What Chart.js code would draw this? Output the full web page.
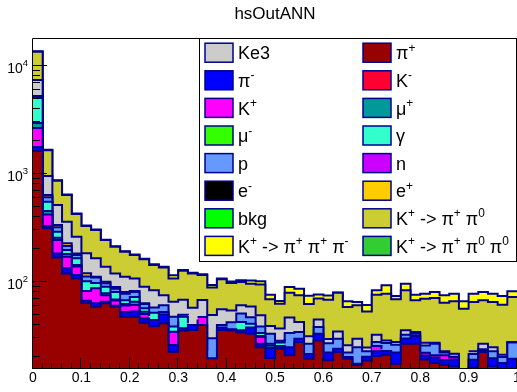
<!DOCTYPE html>
<html>
<head>
<meta charset="utf-8">
<title>hsOutANN</title>
<script src="https://cdn.jsdelivr.net/npm/chart.js@4.4.1/dist/chart.umd.min.js"></script>
<style>
  html, body { margin: 0; padding: 0; background: #fff; }
  canvas { display: block; }
</style>
</head>
<body>
<canvas id="hs-out-ann" width="517" height="392"></canvas>
<script>
// 50 bins on [0, 1]; one point per low edge plus the closing edge
const binEdges = [0, 0.02, 0.04, 0.06, 0.08, 0.1, 0.12, 0.14, 0.16, 0.18,
  0.2, 0.22, 0.24, 0.26, 0.28, 0.3, 0.32, 0.34, 0.36, 0.38,
  0.4, 0.42, 0.44, 0.46, 0.48, 0.5, 0.52, 0.54, 0.56, 0.58,
  0.6, 0.62, 0.64, 0.66, 0.68, 0.7, 0.72, 0.74, 0.76, 0.78,
  0.8, 0.82, 0.84, 0.86, 0.88, 0.9, 0.92, 0.94, 0.96, 0.98, 1];

const xTicks = [0, 0.1, 0.2, 0.3, 0.4, 0.5, 0.6, 0.7, 0.8, 0.9, 1];
const xTickLabels = ['0', '0.1', '0.2', '0.3', '0.4', '0.5', '0.6', '0.7', '0.8', '0.9', '1'];
const yDecades = [100, 1000, 10000];
const yDecadeLabels = ['10^{2}', '10^{3}', '10^{4}'];

// per-species entries per bin (stacked bottom to top in this order below)
const piPlus = [1633, 314, 169, 120, 108, 64, 59, 63.5, 59, 47.7,
  47.7, 42, 39, 41.4, 22.6, 35.4, 36, 40, 19.7, 36,
  35.5, 34, 33.2, 24.9, 19.8, 24.1, 21, 27.8, 19.5, 28.8,
  18.9, 22.5, 19.5, 17, 18.8, 20.7, 21.2, 17.5, 26.8, 26.8,
  19.2, 17.8, 17, 16.6, 8, 16.2, 22.5, 16.6, 13, 12];
const piMinus = [145, 16, 15, 14, 8, 3, 4.5, 2, 1.3, 5,
  5.5, 4, 5.5, 9, 3.5, 2, 4, 5, 0, 2,
  1, 1.7, 4.8, 1.9, 4.7, 1.5, 3.9, 2.1, 2.1, 4.4,
  3.4, 1.6, 0.7, 0.5, 1.5, 2.2, 1.8, 4.8, 3.2, 4.9,
  1.7, 2.2, 2, 2.6, 3, 2.9, 1, 3.1, 4.8, 7.5];
const kMinus = [0, 0, 0, 0, 0, 0, 0, 0, 0, 0,
  0, 0, 0, 0, 0, 0, 0, 0, 0, 0,
  0, 0, 0, 0, 0, 0, 0, 0, 0, 0,
  0, 0, 0, 0, 0, 0, 0, 0, 0, 0,
  0, 0, 0, 0, 0, 0, 0, 0, 0.6, 0];
const kPlus = [890, 92, 61, 37, 23, 15.6, 24, 10, 7, 8,
  8, 4.6, 4, 0, 8.6, 5.7, 0, 2.5, 3.4, 0,
  0, 5.4, 0, 4.1, 0.8, 0, 3.9, 0, 1.6, 0,
  0, 1.8, 0, 2.8, 0, 2.6, 0.8, 0, 1.5, 0,
  1.2, 1, 2, 1, 1, 0, 0, 0.8, 0, 0];
const muMinus = [0, 0, 0, 0, 0, 0, 0, 0, 0, 0,
  0, 0, 0, 0, 0, 0, 0, 0, 0, 0,
  0, 0, 0, 0, 0, 0, 0, 0, 0, 0,
  0, 0, 0, 0, 0, 0, 0, 0, 0, 0,
  0, 0, 0, 0, 0, 0, 0, 0, 0, 0];
const muPlus = [300, 32, 12, 11, 5, 6, 0, 3, 1.5, 2,
  4.5, 2.4, 1, 0, 0, 1.7, 0, 0, 0, 0,
  0, 0, 0, 0.8, 0.5, 1, 0, 0, 0.5, 0,
  0.8, 0, 0, 1, 0, 0.4, 0, 0.8, 0, 0,
  0.6, 0, 0, 0, 0, 0.5, 0, 0, 0, 0];
const gamma = [2092, 100, 35, 16, 22, 13, 10.5, 12, 12, 5,
  7, 4, 2.5, 2.4, 4, 3, 1.4, 0, 2, 0,
  0, 1.5, 3, 2, 1, 1, 1.1, 0, 0.9, 0,
  1.5, 0, 0, 1.6, 0, 0.4, 0, 1.2, 0, 0,
  0.6, 0, 0, 0, 0, 0.5, 0, 0, 0, 0];
const proton = [150, 54, 29, 17, 12, 11, 12, 7, 6, 10,
  8, 5.5, 6, 8, 9, 2, 8, 0, 5, 2,
  6, 8.4, 6.2, 5, 6.4, 1, 3.8, 4.6, 2.2, 5.2,
  2.5, 4, 2.1, 2, 2.5, 1.5, 3.4, 2, 1, 1.5,
  2.5, 5.8, 1.2, 1.5, 2, 1.5, 0.3, 2.3, 1.8, 8];
const neutron = [0, 0, 0, 3, 0, 0, 0, 0, 0, 0,
  0, 0, 0, 0, 0, 1.6, 0, 2, 0, 0,
  0, 0, 0, 0, 0, 1, 0, 0, 0, 1.5,
  0, 0, 1.5, 0, 1, 0, 0, 0, 0, 0,
  0, 0, 0, 0, 0, 0, 0, 1, 0, 0];
const eMinus = [0, 0, 0, 0, 0, 0, 0, 0, 0, 0,
  0, 0, 0, 0, 0, 0, 0, 0, 0, 0,
  0, 0, 0, 0, 0, 0, 0, 0, 0, 0,
  0, 0, 0, 0, 0, 0, 0, 0, 0, 0,
  0, 0, 0, 0, 0, 0, 0, 0, 0, 0];
const ePlus = [67, 31, 16, 10, 6, 8, 2, 3, 3, 3,
  2, 1, 1, 0, 0, 0, 0, 0, 0, 1.5,
  0, 0, 0, 1, 0, 0, 0, 0, 0, 0,
  0, 0, 0, 0, 0, 0, 0, 0, 0, 0,
  0, 0, 0, 0, 0, 0, 0, 0, 0, 0];
const bkg = [0, 0, 0, 0, 0, 0, 0, 0, 0, 0,
  0, 0, 0, 0, 0, 0, 0, 0, 0, 0,
  0, 0, 0, 0, 0, 0, 0, 0, 0, 0,
  0, 0, 0, 0, 0, 0, 0, 0, 0, 0,
  0.5, 0, 0, 0, 0, 0, 0, 0, 0, 0];
const ke3 = [2138, 318, 179, 134, 79, 64, 54, 38, 30, 31,
  25, 27, 25, 14.6, 18, 17, 8.3, 18.5, 19.4, 14.5,
  12, 10, 12.2, 9.5, 5.9, 7.6, 13.1, 8.1, 4.7, 5.1,
  2.5, 5, 2.1, 5, 1, 4.7, 1.6, 1.5, 3.2, 1.3,
  1.1, 0.6, 0.6, 0.8, 0, 1.2, 3, 1.1, 1, 0.3];
const kpi2 = [6137, 703, 351, 277, 163, 146, 137, 106, 92, 79,
  70, 72, 60, 61, 42, 59, 62, 48, 39.5, 50,
  43.5, 39, 37, 45.8, 30, 25.6, 32.8, 32.6, 31.2, 25.2,
  38.8, 44.7, 32.9, 31.1, 28.5, 43.8, 49.1, 41.3, 48.1, 33.1,
  42.6, 43.7, 41.5, 43.8, 42.6, 42.5, 40.8, 40.4, 40.5, 44.8];
const kpi3 = [120, 15, 8, 6, 4, 3, 3, 2, 2, 2,
  2, 2, 2, 2, 8, 2, 2, 2, 5, 2,
  3, 4, 7, 6.5, 7.3, 4, 10.3, 11.5, 12, 6.3,
  6.6, 0.3, 7.5, 4.3, 8, 7.5, 15.3, 5, 12.6, 8.7,
  7.9, 9.7, 10.9, 11.6, 9.7, 12.6, 13.2, 12.6, 12.5, 9.5];
const kpi00 = [0, 0, 0, 0, 0, 2, 0, 0, 0, 0,
  0, 0, 0, 0, 0, 0, 0, 0, 0, 0,
  0, 0, 0, 0, 0, 3, 0, 0, 0, 0,
  0, 0, 0, 0, 0, 0, 0, 0, 0, 0,
  0, 0, 0, 0, 0, 4.2, 0, 0, 0, 0];

const OUTLINE = '#00008f';
const FONT = '"Liberation Sans", Arial, Helvetica, sans-serif';

const species = {
  piPlus:  { title: 'π^{+}', color: '#990000', values: piPlus },
  piMinus: { title: 'π^{-}', color: '#0000ff', values: piMinus },
  kMinus:  { title: 'K^{-}', color: '#ff0033', values: kMinus },
  kPlus:   { title: 'K^{+}', color: '#ff00ff', values: kPlus },
  muMinus: { title: 'μ^{-}', color: '#33ff00', values: muMinus },
  muPlus:  { title: 'μ^{+}', color: '#009999', values: muPlus },
  gamma:   { title: 'γ', color: '#33ffcc', values: gamma },
  proton:  { title: 'p', color: '#6699ff', values: proton },
  neutron: { title: 'n', color: '#cc00ff', values: neutron },
  eMinus:  { title: 'e^{-}', color: '#000000', values: eMinus },
  ePlus:   { title: 'e^{+}', color: '#ffcc00', values: ePlus },
  bkg:     { title: 'bkg', color: '#00ff00', values: bkg },
  ke3:     { title: 'Ke3', color: '#cccccc', values: ke3 },
  kpi2:    { title: 'K^{+} -> π^{+} π^{0}', color: '#cccc33', values: kpi2 },
  kpi3:    { title: 'K^{+} -> π^{+} π^{+} π^{-}', color: '#ffff00', values: kpi3 },
  kpi00:   { title: 'K^{+} -> π^{+} π^{0} π^{0}', color: '#33cc33', values: kpi00 },
};

const stackOrder = ['piPlus', 'piMinus', 'kMinus', 'kPlus', 'muMinus', 'muPlus', 'gamma',
  'proton', 'neutron', 'eMinus', 'ePlus', 'bkg', 'ke3', 'kpi2', 'kpi3', 'kpi00'];

const legendRows = [
  ['ke3', 'piPlus'], ['piMinus', 'kMinus'], ['kPlus', 'muPlus'], ['muMinus', 'gamma'],
  ['proton', 'neutron'], ['eMinus', 'ePlus'], ['bkg', 'kpi2'], ['kpi3', 'kpi00'],
];

// text with ^{...} superscripts, ROOT style
function drawRootText(ctx, text, x, y, size, align, supScale, raise) {
  const parts = [];
  const re = /\^\{([^}]*)\}/g;
  let last = 0;
  let m;
  while ((m = re.exec(text))) {
    if (m.index > last) parts.push({ t: text.slice(last, m.index), sup: false });
    parts.push({ t: m[1], sup: true });
    last = re.lastIndex;
  }
  if (last < text.length) parts.push({ t: text.slice(last), sup: false });

  const supSize = size * supScale;
  let width = 0;
  parts.forEach((p) => {
    ctx.font = `${p.sup ? supSize : size}px ${FONT}`;
    p.w = ctx.measureText(p.t).width;
    width += p.w;
  });
  let cx = align === 'right' ? x - width : align === 'center' ? x - width / 2 : x;
  ctx.textAlign = 'left';
  ctx.textBaseline = 'alphabetic';
  parts.forEach((p) => {
    ctx.font = `${p.sup ? supSize : size}px ${FONT}`;
    ctx.fillText(p.t, cx, p.sup ? y - raise : y);
    cx += p.w;
  });
}

const rootFrame = {
  id: 'rootFrame',
  afterDatasetsDraw(chart) {
    const { ctx, chartArea: area, scales } = chart;
    const xs = scales.x;
    const ys = scales.y;
    ctx.save();
    ctx.strokeStyle = '#000';
    ctx.lineWidth = 1;

    // frame
    ctx.beginPath();
    ctx.moveTo(area.right, area.top - 0.5);
    ctx.lineTo(area.left - 0.5, area.top - 0.5);
    ctx.lineTo(area.left - 0.5, area.bottom - 0.5);
    ctx.lineTo(area.right, area.bottom - 0.5);
    ctx.stroke();

    // x ticks: major every 0.1, minor every bin
    ctx.beginPath();
    binEdges.forEach((v, i) => {
      const px = Math.round(xs.getPixelForValue(v)) - 0.5;
      const len = i % 5 === 0 ? 11 : 5.5;
      ctx.moveTo(px, area.bottom);
      ctx.lineTo(px, area.bottom - len);
    });
    // y ticks: decades and 2..9 in between
    [10, 100, 1000, 10000].forEach((d) => {
      for (let k = 1; k <= 9; k++) {
        const v = k * d;
        if (v < ys.min || v > ys.max) continue;
        const py = Math.round(ys.getPixelForValue(v)) - 0.5;
        ctx.moveTo(area.left, py);
        ctx.lineTo(area.left + (k === 1 ? 14 : 7), py);
      }
    });
    ctx.stroke();

    ctx.fillStyle = '#000';
    yDecades.forEach((v, i) => {
      const py = ys.getPixelForValue(v);
      drawRootText(ctx, yDecadeLabels[i], 28, py + 6.6, 14, 'right', 0.68, 6.6);
    });

    // legend
    const lx = 199.5, ly = 38.5, lw = 317, lh = 223;
    ctx.fillStyle = '#fff';
    ctx.fillRect(lx, ly, lw, lh);
    ctx.strokeRect(lx, ly, lw, lh);
    const colX = [205, 363];
    legendRows.forEach((row, r) => {
      const cy = 52.7 + r * 27.6;
      row.forEach((key, c) => {
        const s = species[key];
        ctx.fillStyle = s.color;
        ctx.fillRect(colX[c], cy - 9.5, 28, 19);
        ctx.strokeStyle = OUTLINE;
        ctx.lineWidth = 1.5;
        ctx.strokeRect(colX[c], cy - 9.5, 28, 19);
        ctx.fillStyle = '#000';
        drawRootText(ctx, s.title, colX[c] + 33, cy + 6.6, 18, 'left', 0.66, 7.5);
      });
    });

    // title
    ctx.fillStyle = '#000';
    drawRootText(ctx, 'hsOutANN', 275, 19, 17, 'center', 0.66, 6);
    ctx.restore();
  },
};

const datasets = stackOrder.map((key) => {
  const s = species[key];
  return {
    label: key,
    data: binEdges.map((x, i) => ({ x, y: s.values[Math.min(i, s.values.length - 1)] })),
    backgroundColor: s.color,
    borderColor: OUTLINE,
    borderWidth: 2,
    borderJoinStyle: 'miter',
    fill: 'start',
    stepped: true,
    pointRadius: 0,
    tension: 0,
  };
});

new Chart(document.getElementById('hs-out-ann'), {
  type: 'line',
  data: { datasets },
  options: {
    responsive: false,
    animation: false,
    devicePixelRatio: 1,
    layout: { padding: { top: 39, left: 0, right: 0, bottom: 0 } },
    plugins: {
      legend: { display: false },
      tooltip: { enabled: false },
      title: { display: false },
    },
    scales: {
      x: {
        type: 'linear',
        min: 0,
        max: 1,
        grid: { display: false, drawTicks: false },
        border: { display: false },
        ticks: {
          autoSkip: false,
          maxRotation: 0,
          padding: 1,
          color: '#000',
          font: { family: FONT, size: 14 },
          callback: (value, index) => xTickLabels[index],
        },
        afterBuildTicks: (scale) => {
          scale.ticks = xTicks.map((value) => ({ value }));
        },
        afterFit: (scale) => {
          scale.height = 23;
          scale.paddingLeft = 0;
          scale.paddingRight = 0;
        },
      },
      y: {
        type: 'logarithmic',
        stacked: true,
        min: 15.65,
        max: 17780,
        grid: { display: false, drawTicks: false },
        border: { display: false },
        ticks: { display: false },
        afterFit: (scale) => {
          scale.width = 33;
          scale.paddingTop = 0;
          scale.paddingBottom = 0;
        },
      },
    },
  },
  plugins: [rootFrame],
});
</script>
</body>
</html>
